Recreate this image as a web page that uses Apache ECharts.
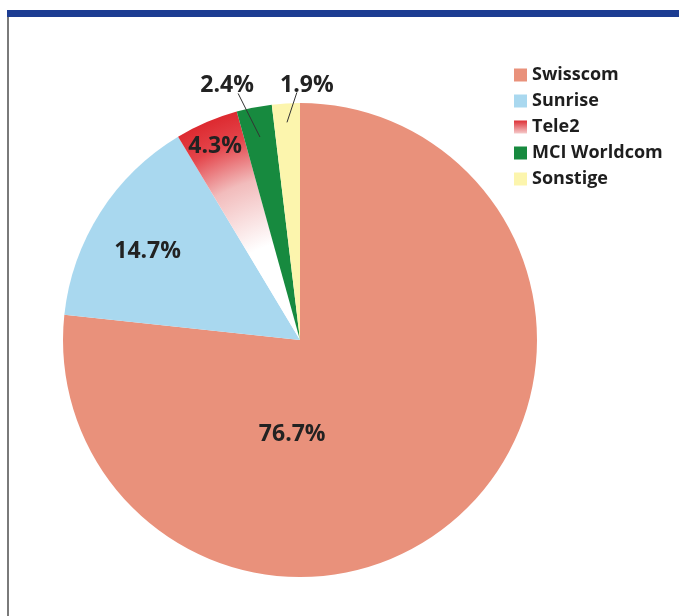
<!DOCTYPE html>
<html>
<head>
<meta charset="utf-8">
<script src="https://cdn.jsdelivr.net/npm/echarts@6/dist/echarts.min.js"></script>
<style>html,body{margin:0;padding:0;background:#fff}#c{width:679px;height:616px}</style>
</head>
<body>
<div id="c"></div>
<script>
const categories = ['Swisscom', 'Sunrise', 'Tele2', 'MCI Worldcom', 'Sonstige'];
const shares = [76.7, 14.7, 4.3, 2.4, 1.9];
const labelTexts = ['76.7%', '14.7%', '4.3%', '2.4%', '1.9%'];

const CX = 300, CY = 340, R = 237;
const FONT = '"Open Sans", "DejaVu Sans", sans-serif';

const tele2Fill = {
  type: 'radial', x: CX, y: CY, r: R, global: true,
  colorStops: [
    { offset: 0, color: '#ffffff' },
    { offset: 0.42, color: '#ffffff' },
    { offset: 0.7, color: '#f2bcbc' },
    { offset: 0.88, color: '#e4454b' },
    { offset: 1, color: '#dd2a30' }
  ]
};
const colors = ['#e9917b', '#a9d8ef', tele2Fill, '#178a3f', '#fcf5ad'];
// label placement (styling only)
const labelOffsets = [[-89, 4], [-50, -23], [-37, -82], null, null];
const outsideLabel = [null, null, null,
  { dx: -27, dy: -22, inner: 0.873, ex: 11, ey: 8 },
  { dx: 21, dy: -18, inner: 0.92, ex: -10, ey: 7 }];

const chart = echarts.init(document.getElementById('c'));

const labelFont = { fontFamily: FONT, fontWeight: 'bold', fontSize: 23, color: '#222222' };

// main pie: slices + inside labels
const mainData = categories.map((name, i) => ({
  name, value: shares[i], itemStyle: { color: colors[i] },
  label: outsideLabel[i] ? { show: false } : { show: true, position: 'inside', offset: labelOffsets[i], formatter: labelTexts[i] },
  labelLine: { show: false }
}));

// overlay pie (transparent): outside labels with leader lines drawn above slices
const overlayData = categories.map((name, i) => ({
  name, value: shares[i], itemStyle: { color: 'rgba(0,0,0,0)' },
  label: outsideLabel[i] ? { show: true, position: 'outside', formatter: labelTexts[i] } : { show: false },
  labelLine: { show: !!outsideLabel[i] }
}));

const legendData = categories.map((name, i) => {
  if (i === 2) {
    return {
      name,
      itemStyle: {
        color: { type: 'linear', x: 0, y: 0, x2: 0, y2: 1, colorStops: [{ offset: 0, color: '#dd3036' }, { offset: 1, color: '#f5caca' }] }
      }
    };
  }
  return { name, itemStyle: { color: colors[i] } };
});

chart.setOption({
  backgroundColor: '#ffffff',
  animation: false,
  graphic: [
    { type: 'rect', shape: { x: 7, y: 10, width: 672, height: 7 }, style: { fill: '#1c3c92' } },
    { type: 'rect', shape: { x: 7, y: 17, width: 2, height: 599 }, style: { fill: '#7a7a7a' } }
  ],
  legend: {
    orient: 'vertical',
    left: 509,
    top: 61,
    itemWidth: 13,
    itemHeight: 13,
    itemGap: 8,
    icon: 'rect',
    selectedMode: false,
    data: legendData,
    textStyle: { fontFamily: FONT, fontWeight: 'bold', fontSize: 18, color: '#1e1e1e' }
  },
  series: [{
    type: 'pie',
    center: [CX, CY],
    radius: [0, R],
    startAngle: 90,
    clockwise: true,
    avoidLabelOverlap: false,
    emphasis: { disabled: true },
    label: labelFont,
    data: mainData
  }, {
    type: 'pie',
    z: 5,
    silent: true,
    legendHoverLink: false,
    center: [CX, CY],
    radius: [0, R],
    startAngle: 90,
    clockwise: true,
    avoidLabelOverlap: false,
    emphasis: { disabled: true },
    label: labelFont,
    labelLine: { length: 10, length2: 5, lineStyle: { color: '#333333', width: 1 } },
    labelLayout: function (p) {
      const o = outsideLabel[p.dataIndex];
      if (!o || !p.labelLinePoints) return {};
      const e = p.labelLinePoints[0];
      const sx = CX + (e[0] - CX) * o.inner;
      const sy = CY + (e[1] - CY) * o.inner;
      const lx = e[0] + o.dx, ly = e[1] + o.dy;
      const tx = lx + o.ex, ty = ly + o.ey;
      return {
        x: lx, y: ly, align: 'center', verticalAlign: 'middle',
        labelLinePoints: [[sx, sy], [tx, ty], [tx, ty]]
      };
    },
    data: overlayData
  }]
});
</script>
</body>
</html>
